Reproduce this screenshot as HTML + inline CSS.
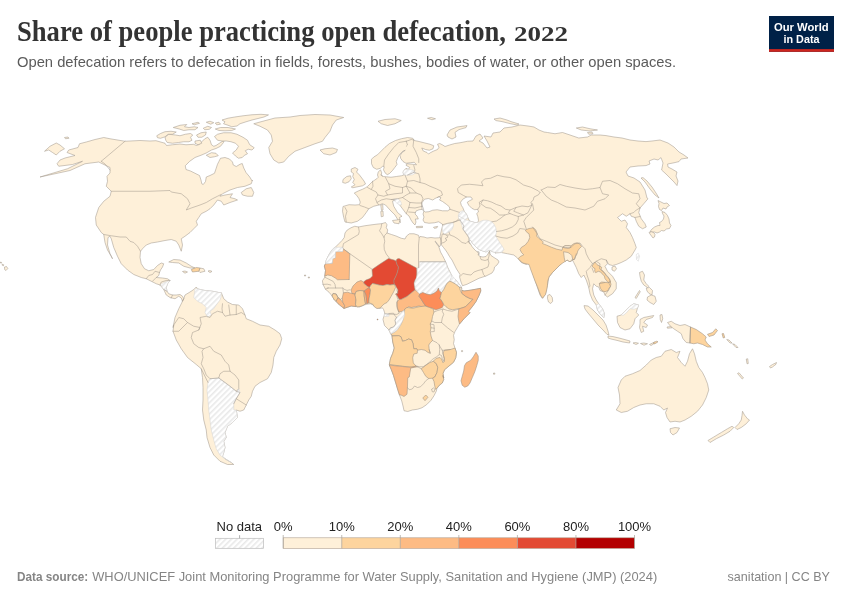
<!DOCTYPE html>
<html lang="en"><head><meta charset="utf-8"><title>Share of people practicing open defecation, 2022</title>
<style>
html,body{margin:0;padding:0;background:#fff;}
body{width:850px;height:600px;overflow:hidden;font-family:"Liberation Sans",sans-serif;}
svg{display:block}
.land{fill:#fef0d9;stroke:#a39a90;stroke-width:.55;stroke-linejoin:round}
.c{stroke:#9c8f80;stroke-width:.55;stroke-linejoin:round}
.h{fill:url(#hatch);stroke:#d4d4d4;stroke-width:.5;stroke-linejoin:round}
.b{fill:none;stroke:#a39a90;stroke-width:.55;stroke-linejoin:round;stroke-linecap:round}
.sea{fill:#fff;stroke:#a39a90;stroke-width:.55;stroke-linejoin:round}
.t{font-family:"Liberation Serif",serif;font-weight:bold;font-size:28.5px;fill:#333}
.st{font-family:"Liberation Sans",sans-serif;font-size:15px;fill:#5b5b5b}
.lg{font-family:"Liberation Sans",sans-serif;font-size:13px;fill:#222;text-anchor:middle}
.ft{font-family:"Liberation Sans",sans-serif;font-size:13px;fill:#858585}
.logo{font-family:"Liberation Sans",sans-serif;font-weight:bold;font-size:11.4px;fill:#fff;text-anchor:middle}
</style></head><body>
<svg width="850" height="600" viewBox="0 0 850 600">
<defs>
<pattern id="hatch" width="4" height="4" patternUnits="userSpaceOnUse" patternTransform="rotate(-45)">
<rect width="4" height="4" fill="#fff"/><rect width="4" height="1.6" fill="#e9e9e9"/>
</pattern>
</defs>
<rect width="850" height="600" fill="#fff"/>

<g id="map">
<path class="land" d="M125,141.25 L110,138.75 L103.75,137.5 L95,139.5 L86.25,142 L79.5,143.75 L78,147.5 L68.75,150 L67,152.5 L75,155.5 L65,158 L60,160 L57,163.75 L58.75,166.25 L72.5,164.5 L82.5,161.25 L67.5,168.75 L40,177 L70,170.5 L85,163.75 L98.75,162 L110,167.5 L110,173 L107,176.25 L107.5,181.25 L106.25,186.25 L111.25,191.25 L110,196.25 L103.75,201.25 L98.75,207.5 L96.25,215 L95.5,217.5 L96.25,225 L101.25,232.5 L103.75,234.5 L105,242.5 L107.5,250 L111.25,256.25 L112.5,258.75 L110,253.75 L107.5,245 L108,237.5 L110,236.25 L111.25,238.75 L113.75,247.5 L117.5,256.25 L121.25,263.75 L127.5,270 L133.75,274.5 L141.25,277.5 L146.25,278.75 L151.25,281.25 L156.25,283.75 L160,285 L163.75,289.5 L166.25,295 L170,297.5 L175,298.75 L178.75,296.25 L181.25,298 L182.5,301.25 L183.75,298.75 L182.5,296.25 L180,294.5 L176.25,295 L172.5,295 L168.75,293.75 L167,291.25 L166.25,287.5 L167.5,283.75 L170,280.5 L167.5,278.75 L162.5,278 L156.25,277.5 L158.75,275.5 L159.5,272.5 L160.5,270 L162.5,267 L163.75,263.75 L161.25,263 L157.5,265.5 L153.75,269.5 L148.75,270.75 L144.5,268.75 L141.25,263.75 L140,257.5 L140.5,251.25 L142.5,248.75 L146.25,245 L151.25,243 L157.5,242 L165,240.5 L171.25,239.5 L176.25,241.25 L178.75,245 L181.25,251.25 L182.5,245 L181.25,238.75 L185,236.25 L190,232.5 L193.75,228.75 L197.5,225 L196.25,221.25 L198.75,217.5 L201.25,213.75 L206.25,211.25 L210,208.75 L213.75,205 L217.5,200 L221.25,201.25 L223.75,205 L230,202.5 L237.5,200 L235,198.75 L230,197.5 L232.5,193.75 L225,195 L220,196.25 L222.5,193.75 L230,190 L237.5,187.5 L245,186.25 L251.25,183.75 L252.5,180 L252,180.75 L249.75,177 L246,172.5 L243.75,168 L242.25,163.5 L240,164.25 L236.25,166.5 L233.25,165 L232.5,162 L229.5,159 L225,157.5 L220.5,158.25 L219,161.25 L217.5,164.25 L216,168.75 L214.5,173.25 L210,175.5 L206.25,177 L205.5,181.5 L203.25,184.5 L201.75,183.75 L201,180 L199.5,175.5 L195,173.25 L190.5,171 L186,169.5 L185.25,165.75 L189.75,161.25 L195,157.5 L201,155.25 L206.25,153 L211.5,150 L216,148.5 L220.5,146.25 L223.5,142.5 L224.25,140.25 L220.5,142.5 L216,145.5 L213.75,146.25 L211.5,144.75 L210,140.25 L207.75,137.25 L204.75,138.75 L201.75,141.75 L199.5,144.3 L196.5,145.5 L193.5,144.3 L186,144.75 L180,144 L172.5,144.75 L166.5,145.5 L165,143.25 L156,140.7 L150,141 L140,140.5Z"/>
<path class="land" d="M241.25,192.5 L246.25,188.75 L251.25,187.5 L253.75,192.5 L252.5,196.25 L247.5,196.25 L242.5,195Z"/>
<path class="land" d="M214.5,136.5 L217.5,134.25 L223.5,132.75 L231,132.75 L237,134.25 L243,137.25 L247.5,140.25 L249.75,144.75 L254.25,147.75 L252,150 L248.25,149.25 L245.25,150.75 L247.5,153.75 L244.5,155.25 L242.25,157.5 L238.5,158.25 L235.5,156 L232.5,153 L236.25,150 L238.5,146.25 L235.5,143.25 L231,141.75 L226.5,141 L222,141 L217.5,140.25Z"/>
<path class="land" d="M165,137.25 L168.75,134.25 L175.5,135 L180,135.75 L185.25,134.25 L190.5,133.5 L192.75,135 L190.5,137.25 L192,140.25 L189,141.75 L183.75,141.75 L178.5,142.5 L172.5,143.25 L167.25,142.5 L165.75,140.25Z"/>
<path class="land" d="M156.75,135.75 L160.5,133.5 L165,131.7 L171,131.25 L176.25,132 L172.5,134.25 L168,134.25 L165,136.8 L160.5,138.3 L157.5,137.7Z"/>
<path class="land" d="M173.25,127.5 L180,125.25 L186.75,124.5 L184.5,126.75 L189,127.5 L194.25,126.75 L198,127.5 L195,129.75 L189,129.75 L183.75,130.5 L179.25,129Z"/>
<path class="land" d="M192,123.75 L198,122.25 L199.5,123.3 L194.25,124.8Z"/>
<path class="land" d="M196.5,135 L201,132.75 L206.25,132 L205.5,135 L201.75,137.25 L198,137.25Z"/>
<path class="land" d="M195,141 L200.25,140.25 L201.75,143.25 L198,144.75 L195,143.25Z"/>
<path class="land" d="M215.25,129 L220.5,127.5 L228,127.5 L235.5,129 L231.75,130.5 L225,130.8 L219,130.5Z"/>
<path class="land" d="M203.25,128.25 L207.75,126.3 L211.5,127.5 L209.25,129.3 L204.75,129.75Z"/>
<path class="land" d="M206.25,122.25 L210,121.2 L213.75,122.7 L210.75,124.2Z"/>
<path class="land" d="M215.25,123 L219,122.25 L220.5,124.2 L216.75,124.8Z"/>
<path class="land" d="M222,120 L228,118.2 L234.75,117 L243,115.8 L252,114.75 L261,114.3 L268.5,114.9 L264,117 L258,118.5 L252,120 L246,121.8 L240,123.75 L237,126 L231.75,126.75 L228,125.25 L223.5,123.75 L225,121.8Z"/>
<path class="land" d="M206.25,155.25 L211.5,152.7 L216,153.3 L218.25,155.7 L214.5,156.75 L210,157.5Z"/>
<path class="land" d="M253.75,123.75 L260,122 L275,118 L290,117 L300,115.5 L315,114.5 L330,115 L343.75,117.5 L336.25,120 L332.5,125 L330,131.25 L325,137.5 L322.5,141.25 L315,143.75 L305,147.5 L295,151.25 L288.75,156.25 L283.75,162 L278.75,163 L273.75,160 L270,153.75 L268.75,147.5 L272.5,141.25 L271.25,135 L267.5,130 L260,126.25Z"/>
<path class="land" d="M320,150 L325,148.75 L332.5,148 L337.5,149.5 L336.25,152.5 L330,155 L323.75,153.75Z"/>
<path class="land" d="M44.5,151.25 L50,146.25 L56.25,143 L60,145 L64.5,148.75 L60,151.25 L56.25,155 L52.5,152.5 L48.75,150Z"/>
<path class="land" d="M64.5,137.5 L68,137 L69,138.25 L65.5,138.75Z"/>
<path class="land" d="M168.75,262 L173.75,259.5 L180,260 L186.25,263 L191.25,266.25 L195,268 L190,268 L183.75,266.25 L178.75,263 L172.5,262.5Z"/>
<path class="land" d="M200,268 L203.75,268.75 L205,271.25 L200,272.5 L198.75,271.25Z"/>
<path class="land" d="M182.5,271.5 L185,271 L187.5,272 L185,273.2Z"/>
<path class="land" d="M208,271 L210,270.6 L212,271.4 L210,272.6Z"/>
<path class="land" d="M182.5,301.25 L183.75,298.75 L185,295 L190,292 L193.75,289.5 L196.25,287 L197.5,288.75 L200,289.5 L205,290.5 L212.5,291.25 L218.75,292.5 L221.25,292.5 L223.75,298.75 L227.5,302 L232.5,304.5 L238.75,305 L242.5,308.75 L245,315 L246.25,318.75 L252.5,321.25 L260,325 L268.75,326.25 L275,330 L280,333.75 L281.75,338.75 L280,345 L276.25,351.25 L273.75,357.5 L273,365 L271.25,372.5 L267.5,378.75 L260,382.5 L255,386.25 L252.5,391.25 L251.25,396.25 L248.75,400 L246.25,405 L243.75,410 L240,411.25 L236.25,410 L237.5,417.5 L232.5,422.5 L227.5,426.25 L225,432.5 L226.25,437.5 L223.75,441.25 L225,447.5 L223.75,452.5 L222.5,456.25 L225,458.75 L231.25,462.5 L233.75,464.5 L227.5,464.5 L220,461.25 L213.75,455 L210,447.5 L207,437.5 L206.25,430 L203.75,420 L202.5,410 L203,400 L203,387.5 L202.5,377.5 L201.25,368.75 L196.25,364.5 L187.5,357.5 L181.25,348.75 L176.25,340 L173,331.25 L173.75,325 L173,327.5 L175,317.5 L178.75,308.75Z"/>
<path class="land" d="M4.5,267 L6.5,266.5 L7.8,268.5 L6,270.5 L4.6,269.5Z"/>
<path class="land" d="M2.2,264.2 L3.8,264.8 L3.4,265.8 L2.2,265.2Z"/>
<path class="land" d="M0.5,262 L1.6,262.4 L1.4,263.2 L0.5,263Z"/>
<path class="land" d="M354.75,226.25 L358.5,227 L364.5,225.8 L372,224.75 L378,224 L381.75,223.7 L385.5,222.5 L387,224.75 L386.25,227.75 L387.75,230 L387,233 L391.5,234.5 L396,236 L401.25,238.25 L405,239 L406.5,236 L409.5,233.75 L414,233.75 L418.5,235.25 L419.25,237.5 L420,236.5 L424,237 L427,238 L431,237.5 L435,238 L438.5,237.8 L440.5,237.5 L441.3,240.5 L440.6,245 L439.8,246.3 L439,247.2 L440.5,252 L442.5,255.5 L444,258.5 L445.5,261.5 L446.5,264 L447.5,267 L449,270 L450.5,273 L452,276 L453.5,280 L455,279 L458,282.75 L461,286.5 L461.75,288 L461.75,290.25 L464,291 L470,290.25 L476,289.2 L480.5,288.3 L480.8,291 L479,295.5 L476,301.5 L472.25,306.75 L468.5,311.25 L470,312.75 L464,318.75 L459.5,324 L457.25,327.75 L455,331.5 L453.5,335.25 L454.25,339.75 L453.5,343.5 L455,348 L456.5,352.5 L455.75,357.75 L453.5,362.25 L449,366 L444.5,369.75 L443,373.5 L443.75,378 L442.7,375.5 L443.75,379.25 L442.25,383 L439.25,385.25 L437,388.25 L436.25,391.25 L434,395.75 L431,400.25 L426.5,404.75 L422,407.75 L417.5,409.25 L412.25,410 L407.75,411.5 L404,410.75 L403.25,407 L401.75,401 L399.5,395 L398,390.5 L395.75,383 L393.5,375.5 L391.25,369.5 L389.3,365 L390.5,358.5 L392.75,353.25 L394.25,348 L392.75,342 L392,336 L390.5,333.75 L389,330 L384.5,325.5 L383,319.5 L383,319.2 L384.2,315.6 L384.8,313.2 L383.6,309.6 L382.4,307.8 L380,308.4 L376.4,307.8 L374,305.4 L370.4,303.84 L366.8,304.2 L363.2,305.4 L359.6,306.96 L356,306.6 L351.2,306 L347.6,307.2 L344,308.4 L341.6,306.6 L338,303.6 L334.4,300 L332,295.8 L329,292.2 L325.4,289.2 L323,284.4 L322.4,280.8 L324.8,277.2 L324.75,276.2 L325.5,270.5 L324.3,266 L325.5,263.75 L326.25,260 L328.5,255.5 L330.75,251.75 L333,248.75 L335.25,247.25 L339,243.5 L342,240.5 L344.25,237.5 L345,233 L347.25,230 L351,227.75Z"/>
<path class="land" d="M304.5,275 L305.6,275 L305.6,276 L304.5,276Z"/>
<path class="land" d="M308.3,277 L309.4,277 L309.4,278 L308.3,278Z"/>
<path class="land" d="M461.5,350.6 L462.6,350.6 L462.6,351.6 L461.5,351.6Z"/>
<path class="land" d="M493.5,373 L494.8,373 L494.8,374.2 L493.5,374.2Z"/>
<path class="land" d="M351.25,223 L345,222 L343.75,217.5 L342.5,211.25 L343,206.5 L349,204.7 L355,205 L359.5,204.7 L360.25,202 L358.75,198.25 L356.5,195.25 L354.25,193 L358.75,190.75 L362.5,189.25 L365.5,187.75 L367.75,186.25 L370,184 L372.25,181.75 L374.5,180.25 L376.75,178.75 L378.25,177.25 L377.5,175 L378.25,172 L380.5,169.75 L381.7,172.75 L381.25,175 L383.5,176.5 L386.5,176.8 L391,177.25 L396.25,176.5 L401.5,175.75 L403.75,175 L403,172 L404.5,169.75 L406,168.25 L408.25,169.3 L409.75,167.5 L406,165.25 L406.75,163.75 L412,164.2 L416.5,164.8 L414.25,162.25 L410.5,162.7 L406,163.3 L403,161.5 L400.75,158.5 L400,155.5 L402.25,152.5 L405.25,150.25 L403,151 L400,154 L397.75,157.75 L396.25,161.5 L397,164.5 L394.75,167.5 L392.5,170.5 L389.5,173.5 L387.25,174.7 L385,172.75 L383.5,169.75 L384.25,166.75 L382.75,166 L380.5,168.25 L376.75,169.3 L373.3,167.5 L371.5,163.75 L371.5,159.25 L373.75,157 L377.5,154.75 L381.25,151 L385,147.25 L389.5,143.5 L395.5,140.5 L401.5,138.7 L407.5,137.5 L412.75,138.25 L414.25,140.5 L418,141.25 L424,142.75 L430,144.25 L433.75,145.75 L433,148.75 L429.25,150.25 L425.5,149.5 L421.75,148 L423.25,151 L427,152.5 L428.5,154 L430.75,152.5 L433.75,151 L437.5,149.5 L439,147.25 L437.5,144.25 L439.75,143.5 L442.75,145 L445,146.5 L449.5,145 L454.75,143.5 L460,142.75 L467.5,141.25 L473,141 L476,136 L480,134 L483,138 L479,141 L483,143 L487,148 L490,147 L487,141 L484,136 L491,137 L493,133 L500,132 L504,128 L512,127 L520,125 L528,126 L534,127 L539,130 L544,132 L547.5,132.5 L555,133.75 L562.5,132.5 L570,135 L578.75,138 L587.5,137 L591.25,135 L600,135 L606,135.6 L614,137 L622,138 L630,140 L638,141 L646,141.6 L652,141 L660,140 L668,143 L674,147 L679,152 L684,155 L688,158 L681,159 L679,161.6 L673,163 L667.6,164 L668,167 L672,169 L677,172 L676,176 L678,181 L677,185.6 L674,182 L670,178 L666,174 L661.6,170 L663,163 L661,157.6 L658,160 L654,159 L649,161 L650,164 L646,165.6 L638,166 L630,167 L626,172 L628,176 L634,178 L640,182 L645,190 L647,198 L648,198.75 L643.75,203.75 L640,208 L640,208 L638.75,212.5 L641.25,218.75 L645,223.75 L646.25,227 L642.5,228.75 L638.75,226.25 L636.25,221.25 L635,217.5 L631.25,216.25 L630,213.75 L626.25,216.25 L622.5,213.75 L617.5,217.5 L621.25,221.25 L625,220 L627.5,223.75 L626.25,227.5 L630,232.5 L632.5,237.5 L635,243.75 L636.25,247.5 L635,250 L631.25,256.25 L626.25,260 L621.25,262.5 L616.25,264.5 L612.5,265.5 L608.75,264.5 L606.25,260 L607.5,263.75 L605,266.25 L607.5,271.25 L612.5,276.25 L616.25,282.5 L616.25,288.75 L612.5,293.75 L607.5,297 L605,295 L603.75,292 L600,290.5 L598.75,287 L596.25,286.25 L593.75,283.75 L592.5,288.75 L593.75,295 L596.25,300 L598.75,303.75 L602.5,308.75 L604.5,313.75 L603.75,317.5 L600,313.75 L597.5,310 L596.25,305 L592.5,300 L590,293.75 L588.75,287.5 L586.25,280 L583.75,275 L581.25,277.5 L578.75,273.75 L576.25,267.5 L573.75,262.5 L572.5,260 L570,261.25 L566.25,260 L563.75,258.75 L562.5,262.5 L557.5,267.5 L552.5,272.5 L548.75,277.5 L547.5,285 L545.5,293.75 L542.5,298.25 L540,295 L537,286.25 L533.75,276.25 L531.25,267.5 L529.5,262.5 L526.25,264.5 L521.25,262.5 L517.5,258 L513.75,255 L507.5,253.75 L501.25,252.5 L495,253 L496,252.5 L492,251.5 L490,250 L488.5,250.5 L486,252 L483,251 L480,250 L477,248 L474.5,245.5 L472,242.5 L471,240.5 L469,240 L469,241.5 L470.5,244 L472,246.5 L474,249 L476,251 L477.5,251.8 L478.5,253 L478.3,254.8 L480,256.5 L483,257 L486,256.5 L488,254 L489,251.5 L489.7,251 L490,253.5 L491,255.5 L494,257.5 L498,260 L499,262 L497,265 L494.5,267 L494,270 L492,273 L489,274.5 L486,276 L479,278.25 L473,281.25 L467,284.25 L462.5,285.75 L461,282 L459.5,276.75 L460,274.5 L458.5,272 L456.5,269 L455,266 L453.5,263 L452,260 L449.5,256.5 L447.5,253 L445.5,250 L443.5,247.5 L441.5,245 L441.2,241.5 L440,236.5 L441,232 L441.8,228.5 L442.5,226 L442.5,224.3 L438.75,221.75 L434.25,222.8 L429,223.25 L424.5,222.5 L423,220 L424,217 L423,214 L424,211 L422.5,209.3 L419,209.8 L416,211 L415,214 L417,216 L418.3,219 L415.3,219 L416,222 L415,225 L413,223 L411,220 L409,216 L406.25,213.75 L402.5,208.75 L398.75,203.75 L395,200 L392.5,201.25 L393.75,206.25 L397.5,212.5 L402,216.25 L399.5,217.5 L400.5,222.5 L398,220 L395,215 L390,210 L385.5,205 L382.5,203.75 L378.75,205 L373.75,206.25 L368.75,208.75 L366.25,212.5 L362.5,217.5 L357.5,221.25Z"/>
<path class="land" d="M351.25,169 L355,167.5 L358,169.3 L356.5,172 L359.5,175 L361.75,178 L364,181 L365.5,184 L362.5,185.8 L358,186.7 L352.75,187.75 L351.25,187 L355,184.75 L352.75,182.5 L354.25,179.5 L352.75,176.5 L353.5,173.5 L351.25,172Z"/>
<path class="land" d="M343,179.5 L346.75,176.5 L350.5,175.75 L351.25,178.75 L349,181.75 L345.25,183.25 L342.7,182.5Z"/>
<path class="land" d="M378,121.25 L385,119.5 L395,118.75 L401.25,120.5 L395,123.75 L387.5,125.5 L381.25,123.75Z"/>
<path class="land" d="M427.5,118.25 L431.25,117.5 L435.5,118.75 L432,119.75Z"/>
<path class="land" d="M447,135 L450,130 L457,127 L467,125.6 L466,127.6 L459,129.6 L455,132.4 L456,137 L452,139 L448,137Z"/>
<path class="land" d="M494,119 L500,118 L507,120 L511,121.6 L519,124 L517,125 L510,123.6 L502,121.6 L496,120.6Z"/>
<path class="land" d="M576.25,128 L582.5,127 L590,128.75 L597.5,130 L590,131 L581.25,130Z"/>
<path class="land" d="M587.5,132.5 L592,132 L593,133.75 L588.75,134.25Z"/>
<path class="land" d="M380.75,205 L382.75,204.5 L383,210 L381.5,210.5Z"/>
<path class="land" d="M380.75,211.5 L383,211 L383.25,216.25 L381.25,216.75Z"/>
<path class="land" d="M392.5,220.5 L400,219.5 L399,223.75 L394,223Z"/>
<path class="land" d="M416.25,226.5 L422.5,226.25 L422.5,227.5 L416.5,227.75Z"/>
<path class="land" d="M433.5,227.3 L435.75,226.7 L437.7,226.4 L436.8,227.9 L434.4,228.35Z"/>
<path class="land" d="M641,178 L645,182 L650,189 L655,195 L659,198 L656,193 L652,187 L647,181 L643,177.6Z"/>
<path class="land" d="M658,200.5 L661,202 L664,203.5 L667,203 L669.5,205.5 L667,207 L666,209 L663,208 L661.5,210.5 L659.5,209.5 L658.5,206.5 L659,203.5Z"/>
<path class="land" d="M662,211.5 L665,212.5 L667.5,215.5 L669,219 L669.5,223 L671,225.5 L669.5,228.5 L666.5,229 L664,231 L661.5,230.5 L659.5,232 L657,233 L654.5,232 L652,232 L650,231.5 L652,229 L654.5,227 L658,225.5 L660,225.5 L659.5,222.5 L661.5,221.5 L663.5,219 L664,216 L662.5,213.5Z"/>
<path class="land" d="M649,232.5 L651.5,231.8 L654,232.8 L655,234.5 L654.5,237 L653,238 L651.5,236 L650,234Z"/>
<path class="land" d="M612,267 L615,266 L616.5,268.75 L614.5,271.25 L612,270Z"/>
<path class="land" d="M547.75,295.25 L550,294.5 L552.25,297.5 L552.7,301.25 L550.75,303.5 L548.5,302 L547.45,298.25Z"/>
<path class="land" d="M639.5,272.5 L642.5,271.25 L644.5,275 L643.75,280 L646.25,283.75 L648.75,286.25 L647.5,287.5 L643.75,285 L641.25,281.25 L640,276.25Z"/>
<path class="land" d="M646.25,288 L649.5,287.5 L652.5,290.5 L652,295 L649,293.5 L647,291Z"/>
<path class="land" d="M647.5,297 L651.25,295 L655,296.25 L656.25,301.25 L653.75,304.5 L650,302.5 L647,300Z"/>
<path class="land" d="M635,297.5 L639.5,290.5 L640.25,291.75 L636.25,298.5Z"/>
<path class="land" d="M617,316.25 L621.25,315 L625,311.25 L630,306.25 L633.75,303.75 L638.75,305 L637.5,308 L636.25,312.5 L638.75,315 L635,318.75 L633.75,323.75 L630,328.75 L625,330 L620,327.5 L617.5,322.5Z"/>
<path class="land" d="M584,305.6 L588,306 L593,310 L598,315 L603,320 L606,325 L608,331 L609,335 L607,334.4 L603,330 L598,325 L593,319 L588,313 L585,309Z"/>
<path class="land" d="M608,336 L613,336.6 L619,338 L625,339.6 L630,341 L629.6,343 L623,342 L617,340.4 L611,339 L608,338Z"/>
<path class="land" d="M640,319.5 L643.75,317.5 L650,316.25 L653.75,315.5 L652.5,317.5 L646.25,319.5 L643.75,322.5 L647.5,325 L646.25,327.5 L642.5,326.25 L643.75,331.25 L641.25,332.5 L639.5,327.5 L640,323.75Z"/>
<path class="land" d="M633,343 L635.5,342.5 L638.5,343.25 L636,344.5Z"/>
<path class="land" d="M640.5,343.5 L643.75,343 L647.5,343.75 L644,345.25Z"/>
<path class="land" d="M649.5,344.5 L653,342.75 L655,342 L653.5,344 L651,345.5Z"/>
<path class="land" d="M660,315 L662,314.5 L662.75,318.75 L661.5,322.5 L660.25,319.5Z"/>
<path class="land" d="M667,327 L671.5,326.5 L672,327.75 L667.5,328.25Z"/>
<path class="land" d="M667.5,322.5 L671.25,321.25 L675,323.75 L680,325.5 L685,324.5 L690.5,327 L690,343 L686.25,342.5 L683,338.75 L681.25,333.75 L677.5,331.25 L673.75,328.75 L670.5,326.25Z"/>
<path class="land" d="M726.75,339.5 L729,340 L732,343 L730,343Z"/>
<path class="land" d="M732.5,343.75 L735,344.5 L738,347.5 L736,347.5Z"/>
<path class="land" d="M746.25,359 L747.75,358.75 L748.25,363.5 L747,363.75Z"/>
<path class="land" d="M737.5,373.5 L739,372.75 L743.5,378 L742.25,379Z"/>
<path class="land" d="M769.5,366.5 L772.5,364.5 L776.5,362.5 L776,364.25 L772.5,367 L770.5,368Z"/>
<path class="land" d="M616.25,410 L620,403.75 L619.5,395 L618,387.5 L621.25,380 L625,376.25 L632.5,373.75 L640,370.5 L646.25,365 L651.25,360 L656.25,357.5 L661.25,356.25 L665,351.25 L671.25,349.5 L676.25,352.5 L680,351.25 L677.5,357.5 L681.25,362.5 L685,366.25 L687.5,361.25 L689.5,353.75 L692.5,348.75 L694.5,353.75 L696.25,361.25 L698.75,367.5 L702.5,372.5 L705,377.5 L707.5,383.75 L708.75,390 L706.25,397.5 L702.5,405 L697.5,411.25 L691.25,416.25 L685,420 L680,422 L675,421.25 L670,422 L667,417.5 L665.5,412.5 L667.5,408 L663.75,410 L660,406.25 L653.75,403.75 L646.25,403.75 L640,405 L633.75,407.5 L627.5,411.25 L621.25,412.5Z"/>
<path class="land" d="M670,428.75 L675,427.5 L679.5,428 L677,432.5 L673,435 L670.5,432.5Z"/>
<path class="land" d="M742.5,411.25 L744.5,415 L747.5,418.75 L749.5,420 L746.25,423.75 L741.25,427.5 L737,429.5 L735,427.5 L738.75,423.75 L741.25,420 L742,415.5Z"/>
<path class="land" d="M733.75,427.5 L730,431.25 L723.75,435 L716.25,438.75 L710,442.5 L708,440.5 L713.75,437 L721.25,432.5 L727.5,428.75 L732,426.25Z"/>
<path class="sea" d="M435,241.4 L435.3,241.2 L439.4,246.6 L439,247Z"/>
<path class="sea" d="M422.25,202.25 L424.5,199.25 L428.25,198.5 L432.75,200 L435,198.5 L438.75,196.7 L441,197.75 L439.5,200 L442.5,201.5 L446.25,204.2 L449.25,206.75 L450,209.3 L447.75,210.8 L442.5,210.8 L437.25,209.75 L432.75,210.2 L429,211.7 L425.25,212 L422.25,209.75 L421.5,206Z"/>
<path class="sea" d="M460.5,202.25 L462.75,199.25 L466.5,197 L471,197 L472.5,199.25 L469.5,200.75 L467.25,202.25 L468.75,205.25 L471.75,208.25 L474.75,209.75 L477.75,209.3 L478.5,212 L476.7,213.5 L477.75,216.5 L478.5,220.25 L477.75,222.5 L474.75,222.5 L469.5,221 L468,218 L466.5,214.25 L464.25,211.25 L462.75,207.5 L461.25,205.25Z"/>
<path class="c" fill="#fdd49e" d="M191.25,269.5 L196.25,267.5 L200,268 L198.75,271.25 L192.5,272Z"/>
<path class="h" d="M160.5,284.5 L163.75,282.5 L170,280.5 L167.5,283.75 L166.25,287.5 L167,291.25 L163.75,289.5Z"/>
<path class="h" d="M195,288.75 L197.5,288.75 L200,289.5 L205,290.5 L212.5,291.25 L218.75,292.5 L221.25,292.5 L221.25,296.25 L220,300 L216.25,305 L213.75,308.75 L210,311.25 L211.25,315 L207.5,317 L205,312.5 L206.25,307.5 L202.5,303.75 L197.5,301.25 L193.75,297.5 L194.5,292.5Z"/>
<path class="h" d="M210,378.75 L218.75,378 L225,382.5 L230,386.25 L236.25,391.25 L238.75,388.75 L240,392.5 L236.25,398.75 L233.75,403.75 L233.75,410 L236.25,410 L237.5,417.5 L232.5,422.5 L227.5,426.25 L225,432.5 L226.25,437.5 L223.75,441.25 L225,447.5 L223.75,452.5 L222.5,456.25 L225,458.75 L231.25,462.5 L223.75,458 L220,455 L216.25,448.75 L213.75,440 L211.25,430 L210,420 L208.75,410 L208,400 L207,390 L208,382.5Z"/>
<path class="c" fill="#fdbb84" d="M476,352.25 L478.25,356 L478.25,360.5 L476.75,365.75 L474.8,371.75 L472.25,377.75 L470,383 L467.75,386 L464.75,387.2 L462.2,385.25 L461,380.75 L462.2,376.25 L463.7,371 L464.45,365.75 L466.25,362.75 L470.75,360.2 L473.3,356.75Z"/>
<path class="c" fill="#e34a33" d="M363.5,282 L366,280 L370,278.5 L372.5,276 L372,269.5 L380,264 L388.5,258.5 L392,259.5 L394,260 L396,261 L397,264.5 L398.5,267 L398,270 L397,273.5 L395.5,277 L394,280 L394,283 L395,285 L394,284.5 L390,285 L387,284.5 L383,285.5 L379,285 L375,284 L372.5,283.5 L371,285 L369.5,287.5 L367.5,286.5 L365.5,285 L364,283.5Z"/>
<path class="c" fill="#e34a33" d="M396,261 L397,259 L399,258.5 L416.5,268 L416.8,271 L416.5,278 L415,280 L414,283 L414.5,287 L415,290 L412.5,292 L410,294 L407,296.5 L404,298 L401,299.5 L399,299 L397,295.5 L395.5,294 L397.5,293 L398,290 L396.5,287.5 L395.5,285.5 L395,285 L394,283 L394,280 L395.5,277 L397,273.5 L398,270 L398.5,267 L397,264.5Z"/>
<path class="c" fill="#fdbb84" d="M325.5,263.75 L332.25,263.3 L332.7,258.8 L335.25,257.75 L335.55,251.75 L342.75,251.45 L343.2,248.75 L349.8,253.7 L349.2,279.5 L337.5,279.8 L335.25,278 L331.5,275.75 L327.75,275 L324.75,276.2 L325.5,270.5 L324.3,266Z"/>
<path class="h" d="M335.25,247.25 L342.75,247.25 L343.2,248.75 L342.75,251.45 L335.55,251.75 L335.25,257.75 L332.7,258.8 L332.25,263.3 L325.5,263.75 L326.25,260 L328.5,255.5 L330.75,251.75 L333,248.75Z"/>
<path class="c" fill="#fdbb84" d="M351,290 L353,286 L357,282 L361,280.5 L363.5,282 L364,283.5 L365.5,285 L367.5,286.5 L369.5,287.5 L367.5,288.5 L365,290.5 L364,291 L360,290.5 L356,291.5 L355,294 L352,293.5Z"/>
<path class="c" fill="#fdd49e" d="M332,295.8 L333.2,293.4 L336.2,294 L338,297.6 L336.2,301.2 L334.4,300Z"/>
<path class="c" fill="#fdbb84" d="M336.2,301.2 L338,297.6 L340.4,299.4 L342.8,302.4 L344.6,305.4 L344,308.4 L341.6,306.6 L338,303.6Z"/>
<path class="c" fill="#fdbb84" d="M343.4,292.8 L347.6,292.2 L351.2,293.4 L354.8,294 L356,298.8 L355.4,303.6 L356,306.6 L351.2,306 L347.6,307.2 L344,308.4 L344.6,305.4 L342.8,302.4 L342.2,298.2Z"/>
<path class="c" fill="#fdd49e" d="M356,291.5 L360,290.5 L364,291 L364.2,296 L364.8,300 L365.5,303.8 L363,305.5 L360,306.5 L357,307 L355.5,304.5 L356,300 L355,295Z"/>
<path class="c" fill="#fdbb84" d="M364,291 L365,292.5 L366,295 L366.5,299 L367,303.5 L365.5,303.8 L364.8,300 L364.2,296Z"/>
<path class="c" fill="#fc8d59" d="M365,290.5 L367.5,288.5 L369.5,287.5 L370.5,290 L370,294 L369,299 L368.8,303 L367,303.5 L366.5,299 L366,295 L365,292.5 L364,291Z"/>
<path class="c" fill="#fdd49e" d="M371,285 L372.5,283.5 L375,284 L379,285 L383,285.5 L387,284.5 L390,285 L394,284.5 L395,285 L395.5,287.5 L394.5,290 L393,293 L391,296.5 L389,300 L387,302.5 L384,304 L382,306 L380,308 L377,308.5 L374.5,307 L372.5,304 L369.5,303 L368.8,303 L369,299 L370,294 L370.5,290 L369.5,287.5Z"/>
<path class="c" fill="#fdbb84" d="M397,302 L399,299.5 L401,299.5 L404,298 L407,296.5 L410,294 L412.5,292 L415,290 L417.5,291.75 L419.75,294 L419,296.25 L421.25,299.25 L423.5,303 L425.75,306 L422.75,306.75 L419,306 L415.25,306.75 L411.5,307.5 L408.5,306.75 L405.5,309 L402.5,311.25 L398.75,312 L397.25,308.25Z"/>
<path class="h" d="M419.75,261.75 L445.55,261.75 L447.2,267 L449.3,271.5 L451.7,275.25 L451.25,277.5 L449.75,281.25 L447.5,282.75 L446,285 L443.75,289.5 L441.5,292.5 L439.25,291 L438.5,288 L437,291 L434,293.25 L430.25,294.75 L426.5,294 L422.75,292.5 L419.75,294 L417.5,291.75 L415.25,288 L414.5,283.5 L416,279 L417.5,274.5 L417.2,267.75 L419.3,267.45Z"/>
<path class="h" d="M451.7,275.25 L455,279 L458,282.75 L461,286.5 L459.5,287.25 L455.75,284.25 L452,282 L449.75,281.25 L451.25,277.5Z"/>
<path class="c" fill="#fc8d59" d="M419.75,294 L422.75,292.5 L426.5,294 L430.25,294.75 L434,293.25 L437,291 L438.5,288 L439.25,291 L441.5,292.5 L440.75,295.5 L440,298.5 L442.25,301.5 L443.75,304.5 L442.25,307.5 L438.5,309 L435.5,309.75 L432.5,308.25 L428.75,307.5 L425.75,306 L423.5,303 L421.25,299.25 L419,296.25Z"/>
<path class="c" fill="#fdd49e" d="M441.5,292.5 L443.75,289.5 L446,285 L447.5,282.75 L449.75,281.25 L452,282 L455.75,284.25 L459.5,287.25 L460.25,290.25 L461.75,293.25 L465.5,296.25 L470,298.5 L473,299.25 L469.25,303 L465.5,306.75 L461,308.25 L456.5,309 L452.75,309.75 L449,309 L446,306.75 L443.75,304.5 L442.25,301.5 L440,298.5 L440.75,295.5Z"/>
<path class="c" fill="#fdbb84" d="M461.75,290.25 L464,291 L470,290.25 L476,289.2 L480.5,288.3 L480.8,291 L479,295.5 L476,301.5 L472.25,306.75 L468.5,311.25 L470,312.75 L464,318.75 L459.5,324 L458.75,321 L458,316.5 L458.75,309 L461,308.25 L465.5,306.75 L469.25,303 L473,299.25 L470,298.5 L465.5,296.25 L461.75,293.25Z"/>
<path class="c" fill="#fdd49e" d="M404.75,309 L407,307.5 L413,308.25 L419,306.75 L425,306 L429.5,307.5 L433.25,309 L434,312 L432.5,316.5 L431.75,321 L430.25,324 L431,327.75 L430.25,331.5 L431,336 L432.5,340.5 L430.25,342.75 L428.75,345 L429.2,349.5 L430.25,353.25 L428,352.5 L425,350.25 L421.25,349.5 L417.5,350.25 L416.75,348.75 L413.75,348.75 L413,343.5 L411.5,339.75 L408.5,339 L405.5,340.5 L402.5,341.25 L401,336.75 L398.75,335.7 L392,335.7 L391.25,333.75 L394.25,332.25 L397.25,330 L400.25,325.5 L402.5,321 L404,315Z"/>
<path class="c" fill="#fdd49e" d="M392,336 L398.75,335.7 L401,336.75 L402.5,341.25 L405.5,340.5 L408.5,339 L411.5,339.75 L413,343.5 L413.75,348.75 L416.75,348.75 L417.5,350.25 L417.2,353.25 L413.75,354 L412.7,357.75 L413.3,363 L416,366 L412.25,367.2 L407,366.75 L401,366 L395,365.25 L389.3,364.5 L390.5,358.5 L392.75,353.25 L394.25,348 L392.75,342Z"/>
<path class="h" d="M404,310.5 L404.75,315 L402.5,321 L400.25,325.5 L397.25,330 L394.25,332.25 L391.25,333.75 L389,330 L390.5,327.75 L393.5,327 L395.75,324 L395,320.25 L396.5,317.25 L399.5,315 L401.75,312Z"/>
<path class="h" d="M384.2,313.8 L389,313.5 L389,316.2 L384.5,316.5Z"/>
<path class="c" fill="#fdbb84" d="M389.3,365 L395,365.75 L402.5,366.5 L410,367.25 L416,366.2 L417.5,366.8 L410.75,368 L409.25,377 L407.75,377.75 L407.45,387.5 L407,394.25 L404,396.5 L401,395 L399.5,395 L398,390.5 L395.75,383 L393.5,375.5 L391.25,369.5Z"/>
<path class="c" fill="#fdd49e" d="M421.25,368.75 L425,365.75 L429.5,362.75 L433.25,361.25 L436.25,363.5 L437.75,367.25 L437,372.5 L434.75,377 L432.5,378.2 L428.75,378.5 L425.75,376.25 L423.5,372.5Z"/>
<path class="c" fill="#fdd49e" d="M433.25,361.25 L436.25,358.25 L440,357.5 L441.5,359 L443,362.75 L444.5,361.25 L443.75,356.75 L443,353 L444.5,350 L450.5,349.5 L455,348 L456.5,352.5 L455.75,357.75 L453.5,362.25 L449,366 L444.5,369.75 L443,373.5 L443.75,378 L442.7,375.5 L443.75,379.25 L442.25,383 L439.25,385.25 L437,388.25 L435.5,389.3 L434.75,386 L434,381.5 L432.5,378.2 L434.75,377 L437,372.5 L437.75,367.25 L436.25,363.5Z"/>
<path class="c" fill="#fdd49e" d="M422.75,398 L425.75,395 L428,397.25 L425,400.7Z"/>
<path class="c" fill="#fc8d59" d="M377.2,319.1 L378,319.1 L378,319.9 L377.2,319.9Z"/>
<path class="h" d="M636.25,254.5 L638.25,253.25 L639.5,256.25 L638.25,261.25 L636.5,259.5Z"/>
<path class="h" d="M621.25,315 L625,311.25 L630,306.25 L633.75,303.75 L638.75,305 L637.5,308 L633.75,309.25 L630,308.75 L626.25,313 L623,315.5Z"/>
<path class="h" d="M596.25,305 L598.75,303.75 L602.5,308.75 L604.5,313.75 L603.75,317.5 L600,313.75 L597.5,310Z"/>
<path class="c" fill="#fdd49e" d="M653.5,342.5 L656.5,341.25 L658,341.75 L655.5,343.5 L653.75,344Z"/>
<path class="c" fill="#fdd49e" d="M690.5,327 L696.25,329.5 L702.5,333.75 L706.25,337 L705,340 L707.5,343.75 L711.25,347 L707.5,347 L702.5,344.5 L697.5,343 L693.75,343.75 L690,343Z"/>
<path class="c" fill="#fdd49e" d="M707.5,334.25 L712.5,332.5 L715.75,328.75 L717.5,330.5 L714,335 L709,336.5Z"/>
<path class="c" fill="#fdd49e" d="M722,333.75 L723.5,333.5 L724.75,337.5 L723.25,338Z"/>
<path class="c" fill="#fdd49e" d="M525.25,230 L529,228.5 L533.5,227.75 L535.75,230 L537.25,233.75 L536.5,236 L538.75,238.25 L541.75,240.5 L543.25,242 L542.5,243.5 L546.25,245 L551.5,247.25 L556.75,249.2 L562,250.25 L562.75,247.25 L565,245.75 L569.5,245.75 L571,245.75 L574,243.5 L577,242.75 L579.25,243.5 L581.5,246.5 L579.25,248.75 L577.75,251 L577,254 L575.5,256.25 L574,260 L572.5,258.5 L571.75,260.75 L569.5,261.5 L567.25,260 L565,261.5 L562.75,263 L559.75,265.25 L556,269 L552.25,272.75 L549.25,276.5 L547.75,281 L547.45,285.5 L546.7,290 L545.5,294.5 L542.5,298.25 L541,296 L539.2,291.5 L537.25,286.25 L535,281 L532.75,275 L530.5,269 L529,264.5 L526,263.75 L523,263 L520,260.75 L518.2,258.5 L520.75,256.25 L523.75,254.75 L521.5,252.5 L520,249.5 L521.5,247.25 L525.25,245 L528.25,241.25 L529.75,237.5 L529,233.75 L526.75,232.25Z"/>
<path class="c" fill="#fef0d9" d="M563.5,251.75 L568,252.5 L570.25,254 L571.75,255.5 L572.5,258.5 L571.75,260.75 L569.5,261.5 L567.25,260 L565,261.5 L564.25,257.75Z"/>
<path class="c" fill="#fef0d9" d="M562.75,247.25 L565,245.75 L569.5,245.75 L571,247.25 L568,248.3 L565,248Z"/>
<path class="c" fill="#fdd49e" d="M592,266 L595,262 L597,264.67 L600,266.33 L601.67,267.33 L601,269.33 L603.33,271.33 L605,273.33 L606.33,275.67 L608.33,277.67 L610,280 L610.67,282 L608,282.67 L606.67,280.67 L605,278.67 L604.33,276 L602.33,274 L600.67,272 L598.33,271.33 L595.67,272.67 L594.67,271 L595,268.67 L593.33,267.67Z"/>
<path class="c" fill="#fdd49e" d="M599.33,283.33 L601.67,282 L605,282.33 L607.67,282.67 L610.33,282 L611,284.33 L610.33,286.67 L608.67,288.67 L608,290.67 L605,291.67 L602.33,291 L600.67,288.67 L599.67,286Z"/>
<path class="h" d="M458.25,215.75 L461.25,217.25 L465,219.5 L469.5,221 L474.75,222.5 L477.75,222.5 L483,220.25 L487.5,220.25 L492,221.75 L494.25,224.75 L495.75,227.75 L496.5,231.5 L495.75,236 L498,239.75 L500.25,243.5 L502.5,246.5 L504,249.5 L501.75,252.5 L497.25,252.2 L496,252.5 L492,251.5 L490,250 L488.5,250.5 L486,252 L483,251 L480,250 L477,248 L474.5,245.5 L472,242.5 L471,240.5 L469,240 L468.75,237.5 L467.25,234.5 L465,232.25 L462.75,229.25 L462,225.5 L460.5,221.75 L458.7,218.75Z"/>
<path class="h" d="M459.3,212.3 L462.75,210.5 L465,212.3 L466.8,215 L468,218 L465,219.5 L461.25,217.25 L458.25,215.75Z"/>
<path class="h" d="M442.5,226 L445,224.5 L449,223.5 L453,222.5 L453.5,226 L452,229.5 L449,232 L446,233.5 L443.5,234 L442.5,231Z"/>
<path class="h" d="M403.75,175 L403,172 L404.5,169.75 L408.25,169.3 L413.5,170.2 L415.75,172.75 L412.75,174.7 L408.25,175.3Z"/>
<path class="h" d="M393.25,199.3 L397.75,198.7 L400.75,201.25 L401.5,205 L398.8,204.7 L395.5,202Z"/>
<path class="b" d="M125,141.25 L101.25,161.25"/>
<path class="b" d="M101.25,161.25 L105,164 L110,170"/>
<path class="b" d="M111.25,191.25 L150,191.25 L170,190.5 L171.25,192 L181.25,193.75 L187.5,198.75 L190,203.75 L186.25,210 L191.25,208 L200,205 L206.25,202.5 L212.5,198.75 L217.5,196.25 L221,194.5"/>
<path class="b" d="M103.75,234.5 L111.25,235.75 L120,237 L126.25,237 L130,241.25 L133.75,242.5 L137.5,246.25 L140.5,251.25"/>
<path class="b" d="M146.25,278.75 L148.75,275.5 L152.5,274.5 L155,271.25 L159.5,272.5"/>
<path class="b" d="M156.25,277.5 L152.5,281.25"/>
<path class="b" d="M160,285 L161.25,282 L166.25,280.5 L170,280.5"/>
<path class="b" d="M167,291.25 L163.75,289.5"/>
<path class="b" d="M172.5,295 L171.25,298"/>
<path class="b" d="M245,315 L241.25,312.5 L236.25,314.5 L230,315 L225,316.25 L222.5,312.5 L217.5,311.25 L212.5,313.75 L210,317.5 L206.25,316.25 L200,317.5 L201.25,323.75 L198.75,330 L192.5,332.5 L191.25,337.5 L193.75,343.75 L198.75,347.5 L203.75,348.75 L210,346.25 L213.75,351.25 L221.25,355 L225,361.25 L228.75,365 L230,371.25 L235,375 L238.75,380 L238.75,388.75 L236.25,391.25 L240,392.5 L236.25,398.75 L246.25,405"/>
<path class="b" d="M230,371.25 L223.75,371.25 L220,373.75 L218.75,378 L210,378.75 L206.25,375 L203.75,368.75 L201.25,363.75 L203,357.5 L202,351.25 L203.75,348.75"/>
<path class="b" d="M218.75,378 L225,382.5 L230,386.25 L236.25,391.25"/>
<path class="b" d="M173,331.25 L178.75,331.25 L187.5,322.5 L193.75,326.25 L200,327.5 L198.75,330"/>
<path class="b" d="M173.75,325 L178.75,317.5 L183.75,318.75 L187.5,322.5"/>
<path class="b" d="M201.25,368.75 L208,382.5"/>
<path class="b" d="M233.75,403.75 L236.25,398.75"/>
<path class="b" d="M222.5,303.75 L222,308.75 L222.5,312.5"/>
<path class="b" d="M228.75,305 L230,315"/>
<path class="b" d="M236.25,305.5 L236.25,314.5"/>
<path class="b" d="M183.75,298.75 L182.5,301.25"/>
<path class="b" d="M342.75,247.25 L343.5,243.5 L347.25,241.25 L351,239 L354.75,236.75 L358.5,234.5 L359.25,231.5 L358.5,227"/>
<path class="b" d="M343.2,248.75 L349.8,253.7 L372.75,269.75"/>
<path class="b" d="M381.75,223.7 L381,227.75 L379.5,230.75 L381.75,233.75 L384,237.5 L384.75,241.25 L384,245 L384.3,249.5 L386.25,254 L390,258.8"/>
<path class="b" d="M384,237.5 L384.75,235.25 L387,233"/>
<path class="b" d="M419.25,237.5 L418.5,245 L418.5,267.5"/>
<path class="b" d="M419.75,261.75 L445.55,261.75"/>
<path class="b" d="M349.2,279.5 L348.75,279.5"/>
<path class="b" d="M350,289.8 L347,290.4 L344,289.2 L342.8,288 L335.6,288 L327.2,288"/>
<path class="b" d="M335.6,288 L335,284.4 L333.2,281.4 L327.2,278.4 L324.8,277.2"/>
<path class="b" d="M323,284.4 L327.2,284.16 L330.8,285"/>
<path class="b" d="M325.4,289.2 L328.4,288"/>
<path class="b" d="M342.8,288 L343.4,292.8"/>
<path class="b" d="M332,295.8 L333.2,293.4 L336.2,294 L338,297.6 L340.4,299.4 L342.2,298.2"/>
<path class="b" d="M396.8,289.8 L398,293.4 L396.2,294 L396.8,296.4 L398,299.4 L396.8,302.4 L396.8,306 L398,309.6 L399.2,313.2 L396.8,314.4 L392,314.16 L388.4,314.16 L384.8,313.8"/>
<path class="b" d="M389,313.5 L393.5,313.2 L395,315.75 L396.5,317.25"/>
<path class="b" d="M389,330 L390.5,327.75 L393.5,327 L395.75,324 L395,320.25 L396.5,317.25"/>
<path class="b" d="M434,312 L437.75,310.5 L443,309 L447.5,310.5 L452,311.25 L456.5,309.75 L458.75,309"/>
<path class="b" d="M443,309 L442.25,311.25 L443.75,314.25 L442.25,318 L441.5,322.5 L447.5,327.75 L453.5,332.25"/>
<path class="b" d="M431.75,321 L434.75,322.5 L441.5,322.5"/>
<path class="b" d="M430.25,324 L434,324.75 L434.3,331.5 L431,331.8"/>
<path class="b" d="M431,327.75 L434.3,328.2"/>
<path class="b" d="M432.5,340.5 L437,342.75 L439.25,345 L440,346.5 L442.25,350.25 L446,350.25 L450.5,349.5"/>
<path class="b" d="M430.25,353.25 L429.2,349.5"/>
<path class="b" d="M439.25,345 L439.7,349.5 L439.25,354.75 L436.25,357 L432.5,359.25 L429.5,362.25 L426.5,364.5 L423.5,366.75 L419.75,366.75 L416,366"/>
<path class="b" d="M442.25,350.25 L443,354 L444.5,358.5 L443.75,361.5 L442.25,358.5 L441.5,355.5 L439.7,354.75"/>
<path class="b" d="M407.45,387.5 L409.25,389.75 L412.25,389 L414.5,386 L417.5,387.5 L420.5,386.75 L423.5,383.75 L425.75,380.75 L428.75,378.5"/>
<path class="b" d="M417.5,366.8 L421.25,368.75"/>
<path class="b" d="M431.75,389.3 L433.25,387.8 L434.9,389.3 L434,392 L432.2,391.7 L431.75,389.3"/>
<path class="b" d="M459.5,287.25 L461.75,288"/>
<path class="b" d="M345,207.5 L347,211.25 L345.5,216.25 L346.25,222"/>
<path class="b" d="M360,205.5 L364.5,207 L368.75,208.75"/>
<path class="b" d="M367.5,187.5 L371.25,189.5 L376.25,192 L378,195 L375.5,198.75 L377,202.5 L378.75,205"/>
<path class="b" d="M372.5,181.25 L373,186.25 L371.25,189.5"/>
<path class="b" d="M378,195 L383.75,196.25 L387.5,195 L385.5,191.25 L390,188.75 L388.75,183.75 L385.5,177.5"/>
<path class="b" d="M382.5,176.25 L380.75,175"/>
<path class="b" d="M388.75,183.75 L395,186.25 L402.5,187.5 L406.25,186.25 L407.5,181.25 L405,175"/>
<path class="b" d="M377,202.5 L381.25,200 L386.25,198.75 L391.25,199.5 L395,200"/>
<path class="b" d="M387.5,195 L395,193.75 L402.5,193 L402.5,187.5"/>
<path class="b" d="M391.25,199.5 L397.5,198.75 L402.5,197.5 L406.25,195 L410,193 L406.25,186.25"/>
<path class="b" d="M402.5,197.5 L406.25,200 L410,202.5 L408.75,207.5 L406.25,213.75"/>
<path class="b" d="M410,193 L416.25,193 L421.25,195 L423,198.75 L421.25,203 L422.5,206.25 L423.75,210"/>
<path class="b" d="M410,202.5 L416.25,203 L421.25,203"/>
<path class="b" d="M408.75,207.5 L415,208 L422.5,206.25"/>
<path class="b" d="M408.75,212 L415,212.5"/>
<path class="b" d="M407.5,181.25 L413.75,180.5 L420,182.5 L425,183.75 L430,186.25 L436.25,188.75 L441.25,191.25 L442.5,195 L437.5,197.5"/>
<path class="b" d="M407.5,175 L413.75,172.5 L418.75,173.75 L420,178.75 L420,182.5"/>
<path class="b" d="M406.25,186.25 L411.25,188 L416.25,193"/>
<path class="b" d="M413.75,140 L413,146.25 L416.25,152.5 L418.75,158.75 L418.75,162.5"/>
<path class="b" d="M413.75,165.5 L415,170 L413.75,172.5"/>
<path class="b" d="M383.75,166.25 L384.5,160 L388.75,153.75 L393.75,147.5 L398.75,142.5 L406.25,141.25"/>
<path class="b" d="M406.25,141.25 L407.5,145 L406.25,146.25"/>
<path class="b" d="M406.25,141.25 L411.25,139.5 L413.75,140"/>
<path class="b" d="M450,209.3 L453.75,210.5 L458.25,212 L459.3,212.3"/>
<path class="b" d="M442.5,224.75 L447.75,223.25 L452.25,222.5 L456.75,221 L458.7,218.75"/>
<path class="b" d="M453,222.5 L457,221 L460,220"/>
<path class="b" d="M460,220 L462,223 L464,226 L463,229 L465,232 L467,235 L469,238 L469,240"/>
<path class="b" d="M449,232 L450,235 L454,236.5 L458,239 L462,242.5 L466,243.5 L468,241.5 L469,241.5"/>
<path class="b" d="M443.5,234 L446.5,235 L449,235"/>
<path class="b" d="M446.5,235 L448,237 L445,238.5 L447,240 L444,242.5 L441.2,243.2"/>
<path class="b" d="M441.2,241.5 L441.5,238 L442.2,234 L443.5,234"/>
<path class="b" d="M468,241.5 L470,244"/>
<path class="b" d="M460.5,276 L463,273.5 L467,274.5 L471,275 L474,272 L478,270.5 L482,269.5 L483.5,274.5 L485,276"/>
<path class="b" d="M482,269.5 L488,267 L489,263 L488,259.5 L489,256 L489.5,251.5"/>
<path class="b" d="M480,256.5 L481,259.5 L485,260.5 L488,259.5"/>
<path class="b" d="M477.5,251.8 L479,251.8 L479.2,254.5 L478.3,254.8"/>
<path class="b" d="M466.5,197 L463.5,195.5 L458.25,192.5 L457.5,188.75 L461.25,185 L469.5,184.25 L477,185 L483,185.75 L481.5,182 L484.5,179 L490.5,178.25 L497.25,175.25 L504,176.75 L510,177.5 L516,179.75 L523.5,185 L531,187.25 L538.5,191 L540,192.5"/>
<path class="b" d="M477.75,209.3 L480,206 L479.25,202.25 L483,200 L487.5,200.75 L492,202.25 L496.5,204.5 L501,206 L505.5,209.3 L510,210.05 L516,207.5 L522,206 L528,206.75 L531.75,205.25 L531,202.25 L533.25,200 L534,197 L538.5,194.75 L540,192.5"/>
<path class="b" d="M541.25,190 L547.5,187 L555,187.5 L560,184.5 L566.25,186.25 L575,188 L585,189.5 L592.5,188.75 L600,187.5 L602.5,193.75 L608.75,195 L605,198.75 L597.5,201.25 L593.75,206.25 L585,210 L575,208 L566.25,207 L557.5,202.5 L551.25,200 L546.25,196.25 L541.25,190"/>
<path class="b" d="M600,187.5 L602.5,181.25 L610,180.5 L617.5,183.75 L625,188.75 L632.5,193 L638.75,193.75 L640,198.75 L636.25,203.75 L640,208"/>
<path class="b" d="M532.5,203.75 L533.75,210 L530,213.75 L526.25,217.5 L523.75,221.25 L526.25,228.75"/>
<path class="b" d="M532.5,227 L536.25,232.5 L540,238.75 L546.25,241.25 L555,245 L562.5,247 L570,248 L575,243.75 L580,243 L582.5,246.25 L585,248.75 L586.25,253.75 L588.75,258.75 L592.5,263.75 L596.25,261.25 L601.25,258.75 L606.25,260"/>
<path class="b" d="M630,213.75 L633.75,212.5 L636.25,210 L640,208"/>
<path class="b" d="M635,217.5 L640,216.5"/>
<path class="b" d="M492,221.75 L496.5,221 L501,218 L504.75,215 L510,213.5 L513.75,215 L518.25,216.5 L523.5,215"/>
<path class="b" d="M496.5,231.5 L501.75,230.75 L507,229.25 L512.25,227 L516,224 L518.25,219.5 L518.25,216.5"/>
<path class="b" d="M495.75,236 L501,237.5 L507,238.25 L513,236 L517.5,233 L519.75,228.5 L525,229.25"/>
<path class="b" d="M483,200 L480.75,203.75 L486,207.5 L490.5,208.25 L495,211.25 L499.5,215 L504.75,215"/>
<path class="b" d="M510,210.05 L508.5,212.75 L510,213.5"/>
<path class="b" d="M516,207.5 L513.75,211.25 L517.5,212.75 L523.5,215 L528,212.75 L531.75,205.25"/>
<path class="b" d="M576.25,253.75 L575,258.75 L572.5,260"/>
<path class="b" d="M592.5,263.75 L590,267.5 L586.25,271.25 L587,275 L588.75,280 L590,286.25 L588.75,287.5"/>
<path class="b" d="M592,268 L593.75,272.5"/>
<path class="b" d="M605,282.5 L599.5,283.75"/>
<path class="b" d="M596.25,261.25 L600,263.75 L599.5,268.75 L603.75,272.5 L607.5,276.25 L610,280 L608.75,283 L610.5,286.25 L608.75,290 L605,295"/>
<path class="b" d="M690.5,327 L690,343"/>
</g>
<text class="t" x="17" y="40.6"><tspan textLength="489" lengthAdjust="spacingAndGlyphs">Share of people practicing open defecation,</tspan><tspan> </tspan><tspan x="514" font-size="21px" textLength="54" lengthAdjust="spacingAndGlyphs">2022</tspan></text>
<text class="st" x="17" y="67" textLength="659" lengthAdjust="spacingAndGlyphs">Open defecation refers to defecation in fields, forests, bushes, bodies of water, or other open spaces.</text>
<g id="logo"><rect x="769" y="16" width="65" height="35.8" fill="#002147"/><rect x="769" y="49.1" width="65" height="2.7" fill="#ce261e"/>
<text class="logo" x="801.3" y="30.6" textLength="54.7" lengthAdjust="spacingAndGlyphs">Our World</text><text class="logo" x="801.5" y="42.6" textLength="36" lengthAdjust="spacingAndGlyphs">in Data</text></g>
<g id="legend">
<rect x="215.6" y="538.3" width="47.8" height="10" fill="url(#hatch)" stroke="#bbb" stroke-width=".7"/>
<line x1="239.6" y1="535.2" x2="239.6" y2="538.3" stroke="#999" stroke-width=".8"/>
<text class="lg" x="239.3" y="531.2">No data</text>
<rect x="283.20" y="537.8" width="58.55" height="10.6" fill="#fef0d9"/>
<rect x="341.75" y="537.8" width="58.55" height="10.6" fill="#fdd49e"/>
<rect x="400.30" y="537.8" width="58.55" height="10.6" fill="#fdbb84"/>
<rect x="458.85" y="537.8" width="58.55" height="10.6" fill="#fc8d59"/>
<rect x="517.40" y="537.8" width="58.55" height="10.6" fill="#e34a33"/>
<rect x="575.95" y="537.8" width="58.55" height="10.6" fill="#b30000"/>
<rect x="283.20" y="537.8" width="351.30" height="10.6" fill="none" stroke="#b0a090" stroke-width=".6"/>
<line x1="283.20" y1="535" x2="283.20" y2="548.4" stroke="#a8a098" stroke-width=".7"/>
<text class="lg" x="283.20" y="531.2">0%</text>
<line x1="341.75" y1="535" x2="341.75" y2="548.4" stroke="#a8a098" stroke-width=".7"/>
<text class="lg" x="341.75" y="531.2">10%</text>
<line x1="400.30" y1="535" x2="400.30" y2="548.4" stroke="#a8a098" stroke-width=".7"/>
<text class="lg" x="400.30" y="531.2">20%</text>
<line x1="458.85" y1="535" x2="458.85" y2="548.4" stroke="#a8a098" stroke-width=".7"/>
<text class="lg" x="458.85" y="531.2">40%</text>
<line x1="517.40" y1="535" x2="517.40" y2="548.4" stroke="#a8a098" stroke-width=".7"/>
<text class="lg" x="517.40" y="531.2">60%</text>
<line x1="575.95" y1="535" x2="575.95" y2="548.4" stroke="#a8a098" stroke-width=".7"/>
<text class="lg" x="575.95" y="531.2">80%</text>
<line x1="634.50" y1="535" x2="634.50" y2="548.4" stroke="#a8a098" stroke-width=".7"/>
<text class="lg" x="634.50" y="531.2">100%</text>
</g>
<text class="ft" x="17" y="580.8"><tspan font-weight="bold" textLength="71.2" lengthAdjust="spacingAndGlyphs">Data source:</tspan></text>
<text class="ft" x="92.2" y="580.8" textLength="565" lengthAdjust="spacingAndGlyphs">WHO/UNICEF Joint Monitoring Programme for Water Supply, Sanitation and Hygiene (JMP) (2024)</text>
<text class="ft" x="727.6" y="580.8" textLength="102.4" lengthAdjust="spacingAndGlyphs">sanitation | CC BY</text>
</svg></body></html>
